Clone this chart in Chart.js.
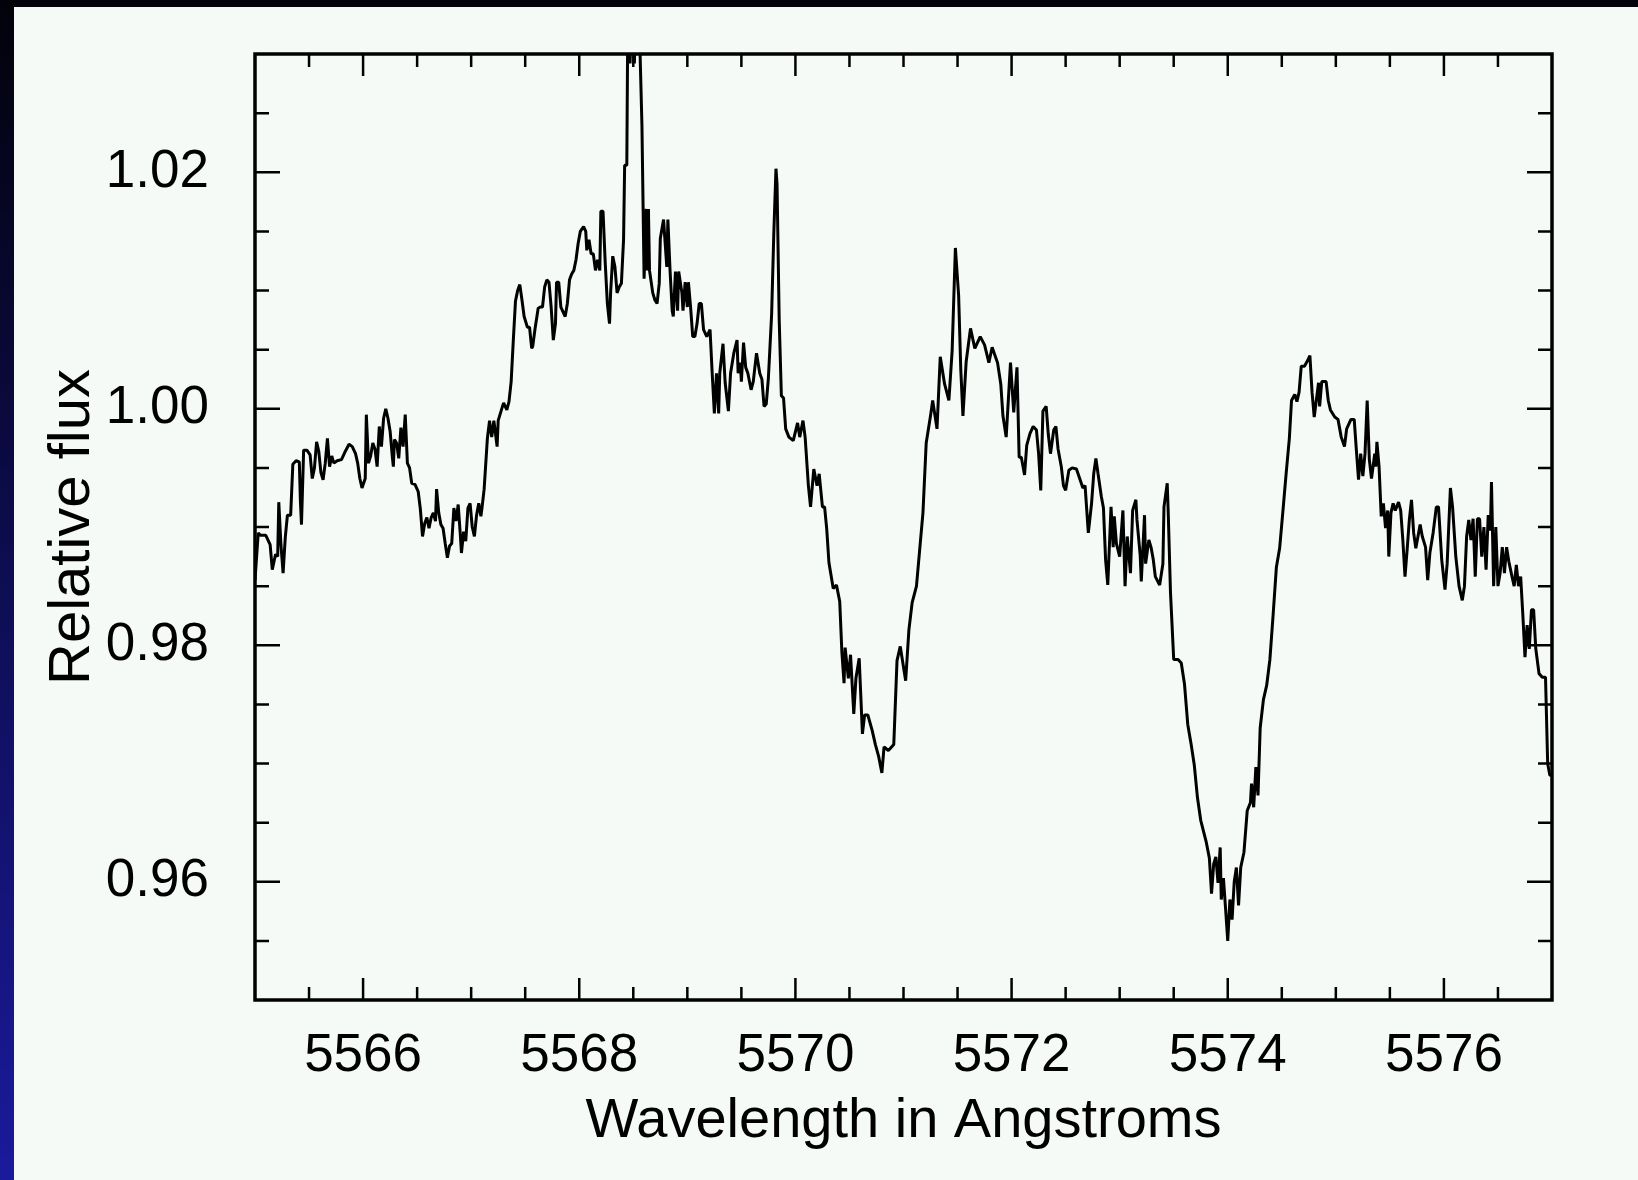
<!DOCTYPE html>
<html>
<head>
<meta charset="utf-8">
<title>Relative flux vs wavelength</title>
<script src="https://cdn.jsdelivr.net/npm/chart.js@4.4.1/dist/chart.umd.min.js"></script>
<style>
  html, body { margin: 0; padding: 0; width: 1638px; height: 1180px; overflow: hidden; background: #02030b; }
  #edge { position: absolute; left: 0; top: 0; width: 14px; height: 1180px;
          background: linear-gradient(to bottom, #02020a 0%, #0c0c4c 45%, #1a1a9c 100%); }
  #panel { position: absolute; left: 14px; top: 7px; width: 1624px; height: 1173px; background: #f5faf7; }
  canvas { position: absolute; left: 0; top: 0; }
</style>
</head>
<body>
<div id="edge"></div>
<div id="panel"></div>
<canvas id="spectrum" width="1638" height="1180"></canvas>
<script>
// Wavelength samples (Angstroms)
const wavelength = [
  5565.00, 5565.03, 5565.05, 5565.10, 5565.14, 5565.16, 5565.19, 5565.21, 5565.22, 5565.24,
  5565.26, 5565.28, 5565.30, 5565.33, 5565.35, 5565.38, 5565.41, 5565.42, 5565.43, 5565.45,
  5565.48, 5565.51, 5565.53, 5565.55, 5565.57, 5565.59, 5565.61, 5565.63, 5565.65, 5565.67,
  5565.69, 5565.71, 5565.73, 5565.76, 5565.80, 5565.83, 5565.87, 5565.90, 5565.93, 5565.95,
  5565.97, 5565.99, 5566.02, 5566.03, 5566.05, 5566.07, 5566.09, 5566.11, 5566.13, 5566.15,
  5566.17, 5566.19, 5566.21, 5566.23, 5566.25, 5566.27, 5566.28, 5566.29, 5566.31, 5566.33,
  5566.35, 5566.37, 5566.39, 5566.41, 5566.43, 5566.45, 5566.48, 5566.51, 5566.53, 5566.55,
  5566.57, 5566.59, 5566.61, 5566.63, 5566.65, 5566.67, 5566.68, 5566.70, 5566.72, 5566.74,
  5566.76, 5566.78, 5566.80, 5566.82, 5566.84, 5566.86, 5566.88, 5566.90, 5566.91, 5566.93,
  5566.95, 5566.97, 5566.99, 5567.01, 5567.03, 5567.05, 5567.07, 5567.09, 5567.10, 5567.12,
  5567.15, 5567.17,
  5567.19, 5567.21, 5567.24, 5567.25, 5567.28, 5567.30, 5567.33, 5567.35, 5567.37, 5567.39,
  5567.41, 5567.43, 5567.45, 5567.47, 5567.49, 5567.52, 5567.54, 5567.56, 5567.57, 5567.59,
  5567.62, 5567.64, 5567.66, 5567.68, 5567.70, 5567.72, 5567.74, 5567.76, 5567.78, 5567.79,
  5567.81, 5567.83, 5567.87, 5567.89, 5567.91, 5567.93, 5567.95, 5567.97, 5567.99, 5568.01,
  5568.04, 5568.06, 5568.07, 5568.09, 5568.11, 5568.13, 5568.15, 5568.17, 5568.19, 5568.20,
  5568.22, 5568.24, 5568.26, 5568.28, 5568.29, 5568.31, 5568.33, 5568.35, 5568.37, 5568.39,
  5568.41, 5568.42, 5568.44, 5568.45, 5568.47, 5568.49, 5568.51, 5568.53, 5568.56, 5568.58,
  5568.60, 5568.62, 5568.63, 5568.64, 5568.65, 5568.68, 5568.70, 5568.72, 5568.74, 5568.75,
  5568.78, 5568.81, 5568.82, 5568.84, 5568.86, 5568.87, 5568.89, 5568.91, 5568.92, 5568.95,
  5568.96, 5568.98, 5569.00, 5569.01, 5569.03, 5569.05, 5569.07, 5569.09, 5569.11, 5569.13,
  5569.15, 5569.18, 5569.21, 5569.23, 5569.25, 5569.27, 5569.29, 5569.30, 5569.33, 5569.35,
  5569.38, 5569.40, 5569.43, 5569.46, 5569.47, 5569.49,
  5569.50, 5569.52, 5569.54, 5569.56, 5569.59, 5569.61, 5569.64, 5569.67, 5569.69, 5569.71,
  5569.73, 5569.75, 5569.78, 5569.80, 5569.82, 5569.83, 5569.85, 5569.87, 5569.89, 5569.91,
  5569.94, 5569.98, 5570.02, 5570.04, 5570.07, 5570.09, 5570.12, 5570.14, 5570.17, 5570.20,
  5570.22, 5570.25, 5570.27, 5570.29, 5570.31, 5570.35, 5570.38, 5570.41, 5570.43, 5570.45,
  5570.46, 5570.49, 5570.51, 5570.54, 5570.56, 5570.59, 5570.62, 5570.64, 5570.67, 5570.71,
  5570.74, 5570.77, 5570.80, 5570.82, 5570.86, 5570.91, 5570.94, 5570.97, 5571.02, 5571.05,
  5571.08, 5571.12, 5571.15, 5571.18, 5571.21, 5571.25, 5571.27, 5571.31, 5571.34, 5571.38,
  5571.42, 5571.45, 5571.48, 5571.51, 5571.53, 5571.55, 5571.58, 5571.62, 5571.66, 5571.71,
  5571.75, 5571.79, 5571.82, 5571.87, 5571.90, 5571.92, 5571.95, 5571.99, 5572.02, 5572.05,
  5572.07,
  5572.09, 5572.12, 5572.14, 5572.17, 5572.20, 5572.23, 5572.25, 5572.27, 5572.29, 5572.32,
  5572.34, 5572.36, 5572.39, 5572.41, 5572.43, 5572.46, 5572.48, 5572.50, 5572.53, 5572.56,
  5572.60, 5572.63, 5572.66, 5572.68, 5572.71, 5572.74, 5572.76, 5572.78, 5572.80, 5572.83,
  5572.85, 5572.87, 5572.89, 5572.92, 5572.94, 5572.95, 5572.97, 5573.00, 5573.03, 5573.05,
  5573.07, 5573.10, 5573.12, 5573.15, 5573.16, 5573.19, 5573.20, 5573.23, 5573.24, 5573.27,
  5573.29, 5573.31, 5573.33, 5573.37, 5573.40, 5573.41, 5573.44, 5573.45, 5573.47, 5573.50,
  5573.54, 5573.57, 5573.60, 5573.63, 5573.66, 5573.69, 5573.72, 5573.75,
  5573.80, 5573.83, 5573.85, 5573.87, 5573.89, 5573.91, 5573.93, 5573.94, 5573.96, 5573.98,
  5574.00, 5574.02, 5574.04, 5574.06, 5574.08, 5574.10, 5574.12, 5574.15, 5574.18, 5574.21,
  5574.22, 5574.24, 5574.26, 5574.28, 5574.30, 5574.33, 5574.36, 5574.39, 5574.42, 5574.45,
  5574.48, 5574.51, 5574.54, 5574.57, 5574.59, 5574.62, 5574.64, 5574.66, 5574.68, 5574.71,
  5574.74, 5574.76, 5574.78, 5574.80,
  5574.84, 5574.85, 5574.87, 5574.91, 5574.93, 5574.95, 5574.99, 5575.02, 5575.05, 5575.08,
  5575.10, 5575.14, 5575.17, 5575.19, 5575.21, 5575.23, 5575.25, 5575.27, 5575.29, 5575.31,
  5575.33, 5575.36, 5575.37, 5575.38, 5575.40, 5575.42, 5575.44, 5575.46, 5575.48, 5575.49,
  5575.51, 5575.53, 5575.55, 5575.58, 5575.60, 5575.62, 5575.64, 5575.66, 5575.68, 5575.70,
  5575.72, 5575.74, 5575.76, 5575.78, 5575.80, 5575.83, 5575.85, 5575.87,
  5575.90, 5575.93, 5575.95, 5575.98, 5576.01, 5576.03, 5576.06, 5576.08, 5576.11, 5576.14,
  5576.17, 5576.19, 5576.21, 5576.23, 5576.25, 5576.27, 5576.29, 5576.31, 5576.33, 5576.35,
  5576.37, 5576.39, 5576.41, 5576.43, 5576.44, 5576.46, 5576.48, 5576.50, 5576.52, 5576.54,
  5576.56, 5576.58, 5576.60, 5576.63, 5576.65, 5576.67, 5576.69, 5576.71, 5576.73, 5576.75,
  5576.77, 5576.79, 5576.81, 5576.83, 5576.85, 5576.88, 5576.91, 5576.94, 5576.96, 5576.98,
  5577.00
];

// Relative flux at each wavelength sample
const flux = [
  0.9855, 0.9895, 0.9893, 0.9893, 0.9885, 0.9864, 0.9877, 0.9875, 0.9921, 0.9885,
  0.9861, 0.9891, 0.9910, 0.9910, 0.9953, 0.9956, 0.9955, 0.9922, 0.9902, 0.9965,
  0.9965, 0.9961, 0.9941, 0.9950, 0.9972, 0.9964, 0.9946, 0.9940, 0.9954, 0.9975,
  0.9951, 0.9960, 0.9954, 0.9956, 0.9957, 0.9963, 0.9970, 0.9968, 0.9962, 0.9954,
  0.9941, 0.9933, 0.9941, 0.9995, 0.9954, 0.9960, 0.9971, 0.9966, 0.9951, 0.9985,
  0.9968, 0.9992, 1.0000, 0.9992, 0.9981, 0.9960, 0.9951, 0.9974, 0.9971, 0.9958,
  0.9984, 0.9968, 0.9995, 0.9954, 0.9950, 0.9937, 0.9936, 0.9930, 0.9915, 0.9892,
  0.9903, 0.9908, 0.9899, 0.9908, 0.9912, 0.9905, 0.9932, 0.9912, 0.9902, 0.9899,
  0.9886, 0.9874, 0.9884, 0.9886, 0.9916, 0.9905, 0.9919, 0.9893, 0.9878, 0.9896,
  0.9888, 0.9916, 0.9920, 0.9900, 0.9892, 0.9910, 0.9920, 0.9909, 0.9916, 0.9932,
  0.9975, 0.9990,
  0.9976, 0.9990, 0.9968, 0.9990, 0.9999, 1.0005, 0.9999, 1.0006, 1.0023, 1.0058,
  1.0091, 1.0100, 1.0105, 1.0092, 1.0078, 1.0069, 1.0069, 1.0051, 1.0053, 1.0067,
  1.0085, 1.0086, 1.0086, 1.0103, 1.0109, 1.0107, 1.0086, 1.0058, 1.0072, 1.0107,
  1.0107, 1.0086, 1.0078, 1.0089, 1.0109, 1.0114, 1.0117, 1.0126, 1.0140, 1.0150,
  1.0154, 1.0150, 1.0134, 1.0143, 1.0131, 1.0131, 1.0117, 1.0126, 1.0117, 1.0167,
  1.0167, 1.0124, 1.0089, 1.0072, 1.0098, 1.0129, 1.0120, 1.0098, 1.0103, 1.0106,
  1.0143, 1.0206, 1.0206, 1.0340, 1.0292, 1.0350, 1.0292, 1.0360, 1.0310, 1.0240,
  1.0110, 1.0169, 1.0117, 1.0169, 1.0117, 1.0098, 1.0092, 1.0089, 1.0106, 1.0144,
  1.0160, 1.0120, 1.0160, 1.0117, 1.0083, 1.0078, 1.0116, 1.0083, 1.0116, 1.0098,
  1.0083, 1.0107, 1.0086, 1.0107, 1.0086, 1.0061, 1.0061, 1.0072, 1.0089, 1.0089,
  1.0067, 1.0061, 1.0067, 1.0030, 0.9996, 1.0030, 0.9996, 1.0030, 1.0055, 1.0022,
  0.9998, 1.0030, 1.0047, 1.0058, 1.0030, 1.0039,
  1.0023, 1.0056, 1.0035, 1.0030, 1.0016, 1.0023, 1.0047, 1.0030, 1.0025, 1.0002,
  1.0004, 1.0026, 1.0080, 1.0148, 1.0203, 1.0190, 1.0075, 1.0011, 1.0009, 0.9983,
  0.9976, 0.9973, 0.9988, 0.9976, 0.9990, 0.9976, 0.9935, 0.9917, 0.9949, 0.9935,
  0.9945, 0.9917, 0.9917, 0.9898, 0.9870, 0.9848, 0.9851, 0.9837, 0.9794, 0.9768,
  0.9798, 0.9772, 0.9792, 0.9742, 0.9772, 0.9789, 0.9725, 0.9741, 0.9741, 0.9728,
  0.9716, 0.9706, 0.9692, 0.9714, 0.9711, 0.9716, 0.9787, 0.9799, 0.9770, 0.9813,
  0.9836, 0.9850, 0.9881, 0.9912, 0.9971, 0.9994, 1.0007, 0.9983, 1.0044, 1.0021,
  1.0007, 1.0049, 1.0136, 1.0096, 1.0033, 0.9994, 1.0040, 1.0068, 1.0051, 1.0061,
  1.0054, 1.0039, 1.0052, 1.0039, 1.0021, 0.9994, 0.9976, 1.0039, 0.9997, 1.0035,
  0.9959,
  0.9959, 0.9944, 0.9969, 0.9979, 0.9985, 0.9982, 0.9962, 0.9931, 0.9998, 1.0002,
  0.9978, 0.9962, 0.9982, 0.9985, 0.9966, 0.9951, 0.9935, 0.9931, 0.9948, 0.9950,
  0.9949, 0.9941, 0.9933, 0.9935, 0.9895, 0.9920, 0.9945, 0.9958, 0.9945, 0.9926,
  0.9916, 0.9872, 0.9851, 0.9917, 0.9883, 0.9909, 0.9886, 0.9875, 0.9914, 0.9850,
  0.9892, 0.9861, 0.9914, 0.9923, 0.9906, 0.9876, 0.9854, 0.9910, 0.9869, 0.9889,
  0.9883, 0.9873, 0.9858, 0.9851, 0.9869, 0.9917, 0.9937, 0.9910, 0.9845, 0.9788,
  0.9788, 0.9785, 0.9767, 0.9733, 0.9717, 0.9699, 0.9671, 0.9652,
  0.9634, 0.9620, 0.9590, 0.9615, 0.9621, 0.9599, 0.9629, 0.9585, 0.9603, 0.9577,
  0.9550, 0.9585, 0.9568, 0.9600, 0.9612, 0.9580, 0.9612, 0.9625, 0.9660, 0.9667,
  0.9683, 0.9663, 0.9697, 0.9673, 0.9730, 0.9754, 0.9766, 0.9788, 0.9826, 0.9866,
  0.9882, 0.9913, 0.9945, 0.9975, 1.0007, 1.0012, 1.0006, 1.0014, 1.0036, 1.0036,
  1.0041, 1.0045, 1.0014, 0.9993,
  1.0022, 1.0002, 1.0023, 1.0023, 1.0007, 0.9999, 0.9993, 0.9991, 0.9976, 0.9968,
  0.9983, 0.9991, 0.9991, 0.9965, 0.9940, 0.9962, 0.9943, 0.9962, 1.0007, 0.9957,
  0.9941, 0.9962, 0.9951, 0.9972, 0.9951, 0.9909, 0.9920, 0.9899, 0.9914, 0.9875,
  0.9912, 0.9920, 0.9914, 0.9921, 0.9914, 0.9889, 0.9858, 0.9881, 0.9906, 0.9923,
  0.9895, 0.9882, 0.9892, 0.9902, 0.9892, 0.9883, 0.9855, 0.9878,
  0.9895, 0.9917, 0.9917, 0.9872, 0.9847, 0.9869, 0.9933, 0.9917, 0.9875, 0.9850,
  0.9838, 0.9850, 0.9892, 0.9906, 0.9889, 0.9907, 0.9858, 0.9907, 0.9907, 0.9875,
  0.9900, 0.9864, 0.9910, 0.9897, 0.9938, 0.9850, 0.9900, 0.9850, 0.9861, 0.9883,
  0.9861, 0.9883, 0.9871, 0.9858, 0.9850, 0.9868, 0.9850, 0.9858, 0.9826, 0.9790,
  0.9817, 0.9797, 0.9830, 0.9830, 0.9797, 0.9776, 0.9773, 0.9773, 0.9700, 0.9690,
  0.9690
];

// Axis tick values
const xLabelTicks = [5566, 5568, 5570, 5572, 5574, 5576];
const xMinorTicks = [5565.5, 5566.5, 5567, 5567.5, 5568.5, 5569, 5569.5, 5570.5, 5571, 5571.5,
                     5572.5, 5573, 5573.5, 5574.5, 5575, 5575.5, 5576.5];
const yLabelTicks = [0.96, 0.98, 1.00, 1.02];
const yMinorTicks = [0.955, 0.965, 0.97, 0.975, 0.985, 0.99, 0.995, 1.005, 1.01, 1.015, 1.025];

const xRange = [5565, 5577];
const yRange = [0.95, 1.03];

const fontFamily = "'Liberation Sans', Arial, sans-serif";
const labelFont = { family: fontFamily, size: 53 };

// Boxed frame with inward-pointing ticks on all four sides
const frameAndTicks = {
  id: 'frameAndTicks',
  afterDatasetsDraw(chart) {
    const { ctx, chartArea: a, scales } = chart;
    const xs = scales.x, ys = scales.y;
    ctx.save();
    ctx.strokeStyle = '#000';
    ctx.lineCap = 'butt';
    ctx.lineWidth = 2.5;
    ctx.beginPath();
    const vTick = (v, len) => {
      const px = xs.getPixelForValue(v);
      ctx.moveTo(px, a.bottom); ctx.lineTo(px, a.bottom - len);
      ctx.moveTo(px, a.top); ctx.lineTo(px, a.top + len);
    };
    const hTick = (v, len) => {
      const py = ys.getPixelForValue(v);
      ctx.moveTo(a.left, py); ctx.lineTo(a.left + len, py);
      ctx.moveTo(a.right, py); ctx.lineTo(a.right - len, py);
    };
    xLabelTicks.forEach(v => vTick(v, 22));
    xMinorTicks.forEach(v => vTick(v, 13));
    yLabelTicks.forEach(v => hTick(v, 25));
    yMinorTicks.forEach(v => hTick(v, 14));
    ctx.stroke();
    ctx.lineWidth = 3.5;
    ctx.strokeRect(a.left, a.top, a.right - a.left, a.bottom - a.top);
    ctx.restore();
  }
};

new Chart(document.getElementById('spectrum'), {
  type: 'line',
  data: {
    datasets: [{
      data: wavelength.map((w, i) => ({ x: w, y: flux[i] })),
      borderColor: '#000',
      borderWidth: 3,
      borderJoinStyle: 'bevel',
      pointRadius: 0,
      tension: 0,
      fill: false
    }]
  },
  options: {
    responsive: false,
    devicePixelRatio: 1,
    animation: false,
    layout: { padding: { left: 0, top: 54, right: 86, bottom: 0 } },
    plugins: { legend: { display: false }, tooltip: { enabled: false } },
    scales: {
      x: {
        type: 'linear',
        position: 'bottom',
        min: xRange[0],
        max: xRange[1],
        grid: { display: false, drawTicks: false, tickLength: 0 },
        border: { display: false },
        afterBuildTicks: (s) => { s.ticks = xLabelTicks.map(v => ({ value: v })); },
        afterFit: (s) => { s.height = 180; },
        ticks: {
          color: '#000',
          font: labelFont,
          padding: 25,
          autoSkip: false,
          maxRotation: 0,
          callback: (v) => String(v)
        },
        title: {
          display: true,
          text: 'Wavelength in Angstroms',
          color: '#000',
          font: { family: fontFamily, size: 56 },
          padding: { top: 25, bottom: 25 }
        }
      },
      y: {
        type: 'linear',
        position: 'left',
        min: yRange[0],
        max: yRange[1],
        grid: { display: false, drawTicks: false, tickLength: 0 },
        border: { display: false },
        afterBuildTicks: (s) => { s.ticks = yLabelTicks.map(v => ({ value: v })); },
        afterFit: (s) => { s.width = 255; s.paddingTop = 0; s.paddingBottom = 0; },
        ticks: {
          color: '#000',
          font: labelFont,
          padding: 46,
          callback: (v) => Number(v).toFixed(2)
        },
        title: {
          display: true,
          text: 'Relative flux',
          color: '#000',
          font: { family: fontFamily, size: 58 },
          padding: { top: 38, bottom: 38 }
        }
      }
    }
  },
  plugins: [frameAndTicks]
});
</script>
</body>
</html>
